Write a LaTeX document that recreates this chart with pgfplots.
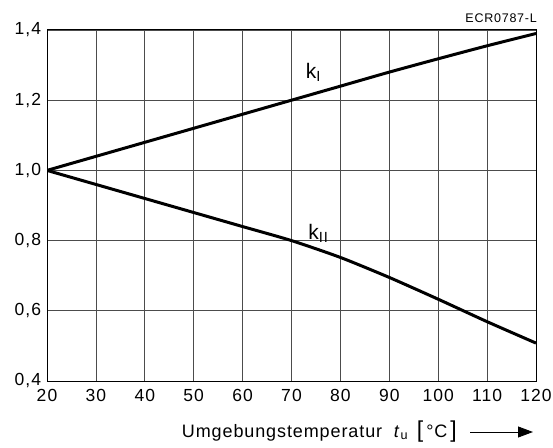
\documentclass[border=0pt]{standalone}
\usepackage{fontspec}
\setmainfont{Liberation Sans}[LetterSpace=6]
\usepackage{pgfplots}
\pgfplotsset{compat=1.18}
\usetikzlibrary{arrows.meta}
\begin{document}
\fontsize{17bp}{20bp}\selectfont
\begin{tikzpicture}
\useasboundingbox (-47bp,-67bp) rectangle (506bp,381bp);
\begin{axis}[
  scale only axis, width=489bp, height=351bp,
  xmin=20, xmax=120, ymin=0.4, ymax=1.4,
  xtick={20,30,40,50,60,70,80,90,100,110,120},
  ytick={0.4,0.6,0.8,1.0,1.2,1.4},
  grid=major,
  major grid style={black!70, line width=0.8bp},
  axis line style={black, line width=1bp},
  major tick length=0pt,
  tick label style={font=\fontsize{17.5bp}{20bp}\selectfont},
  /pgf/number format/assume math mode=true,
  yticklabel style={/pgf/number format/.cd, fixed, fixed zerofill, precision=1, use comma},
  xticklabel style={yshift=-2bp},
]
\addplot[black, line width=3bp, smooth, tension=0.4] coordinates {
(20,1.0) (30,1.04) (40,1.08) (50,1.12) (60,1.16) (70,1.2) (80,1.24) (90,1.28) (100,1.318) (110,1.355) (120,1.39)};
\addplot[black, line width=3bp, smooth, tension=0.4] coordinates {
(20,1.0) (30,0.96) (40,0.92) (50,0.88) (60,0.84) (70,0.80) (80,0.752) (90,0.695) (100,0.633) (110,0.569) (120,0.508)};
\node[font=\fontsize{21bp}{22bp}\selectfont] at (axis cs:74.5,1.28) {k\textsubscript{I}};
\node[font=\fontsize{21bp}{22bp}\selectfont] at (axis cs:75.5,0.82) {k\textsubscript{II}};
\end{axis}
\node[anchor=base east, inner sep=0pt, font=\fontsize{18bp}{20bp}\selectfont\addfontfeatures{LetterSpace=5}] at (410bp,-56bp) {Umgebungstemperatur\ \ \textit{t}\textsubscript{u}\, {\fontsize{23bp}{22bp}\selectfont[}\,°C\,{\fontsize{23bp}{22bp}\selectfont]}};
\draw[line width=0.9bp, -{Triangle[length=15bp,width=11bp]}] (423bp,-51bp) -- (486bp,-51bp);
\node[anchor=east, inner sep=0pt, font=\fontsize{12.5bp}{14bp}\selectfont] at (490bp,363bp) {ECR0787-L};
\end{tikzpicture}
\end{document}
